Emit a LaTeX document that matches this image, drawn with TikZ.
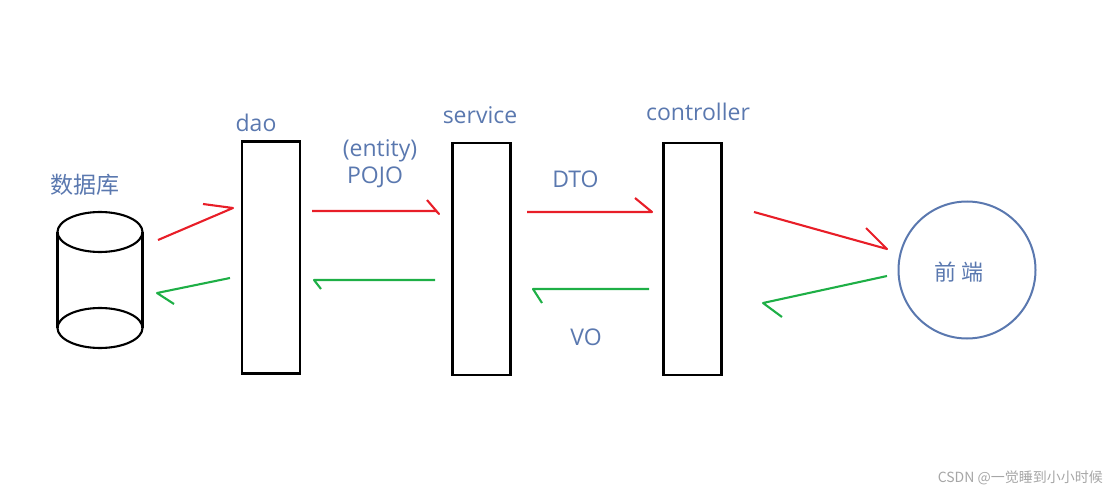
\documentclass[tikz,border=0pt]{standalone}
\usepackage{fontspec}
\setmainfont{Open Sans}
\newfontfamily\cjk{Noto Sans CJK SC}
\definecolor{labelblue}{RGB}{90,120,175}
\definecolor{fwdred}{RGB}{232,30,40}
\definecolor{backgreen}{RGB}{30,175,70}
\tikzset{
  layer/.style={draw, line width=2.2pt, minimum width=58pt, minimum height=232pt, inner sep=0pt},
  tag/.style={text=labelblue, font=\fontsize{23}{27}\selectfont, inner sep=0pt},
  fwd/.style={fwdred, line width=2.1pt, line join=round},
  back/.style={backgreen, line width=2.1pt, line join=round},
}
\begin{document}
\begin{tikzpicture}[x=1pt, y=-1pt]
      \useasboundingbox (0,0) rectangle (1114,500);
      % database cylinder
      \begin{scope}[line width=2.1pt]
        \draw (100,232) ellipse [x radius=42.5, y radius=20];
        \draw (100,328) ellipse [x radius=42.5, y radius=20];
        \draw (57.5,232) -- (57.5,328);
        \draw (142.5,232) -- (142.5,328);
      \end{scope}
      \node[tag, font=\cjk\fontsize{23}{27}\selectfont] (dblabel) at (85,185) {数据库};
      % layers
      \node[layer] (dao) at (271,257.5) {};
      \node[layer] (service) at (481.5,259) {};
      \node[layer] (controller) at (692.5,259) {};
      \node[tag] (daolabel) at (256,123) {dao};
      \node[tag] (servicelabel) at (480,115) {service};
      \node[tag] (controllerlabel) at (698,112) {controller};
      \node[tag] (entity) at (380,151) {(entity)};
      \node[tag] (pojo) at (375,177) {POJO};
      \node[tag] (dto) at (575.5,179) {DTO};
      \node[tag] (vo) at (586,337) {VO};
      % front end
      \node[draw=labelblue, circle, line width=2pt, minimum size=137pt, inner sep=0pt] (front) at (967,270) {};
      \node[tag, font=\cjk\fontsize{22}{26}\selectfont] (frontlabel) at (959,272) {前 端};
      % arrow ends
      \coordinate (r1s) at (158,240); \coordinate (r1t) at (233,208); \coordinate (r1b) at (203,204);
      \coordinate (g1s) at (230,278); \coordinate (g1t) at (157,293); \coordinate (g1b) at (174,304);
      \coordinate (r2s) at (312,211); \coordinate (r2m) at (436,211); \coordinate (r2t) at (439,214); \coordinate (r2b) at (427,200);
      \coordinate (g2s) at (435,280); \coordinate (g2t) at (314,280); \coordinate (g2b) at (321,289);
      \coordinate (r3s) at (527,212); \coordinate (r3t) at (652,212); \coordinate (r3b) at (635,198);
      \coordinate (g3s) at (649,289); \coordinate (g3t) at (533,289); \coordinate (g3b) at (542,303);
      \coordinate (r4s) at (754,212); \coordinate (r4t) at (887,249); \coordinate (r4b) at (866,228);
      \coordinate (g4s) at (887,276); \coordinate (g4t) at (763,303); \coordinate (g4b) at (782,317);
      \begin{scope}[fwd]
        \draw (r1s) -- (r1t) -- (r1b);
        \draw (r2s) -- (r2m) -- (r2t) -- (r2b);
        \draw (r3s) -- (r3t) -- (r3b);
        \draw (r4s) -- (r4t) -- (r4b);
      \end{scope}
      \begin{scope}[back]
        \draw (g1s) -- (g1t) -- (g1b);
        \draw (g2s) -- (g2t) -- (g2b);
        \draw (g3s) -- (g3t) -- (g3b);
        \draw (g4s) -- (g4t) -- (g4b);
      \end{scope}
      \node[text=black!35, font=\cjk\fontsize{14}{16}\selectfont, anchor=east, inner sep=0pt] (mark) at (1103,478) {CSDN @一觉睡到小小时候};
    \end{tikzpicture}
\end{document}
